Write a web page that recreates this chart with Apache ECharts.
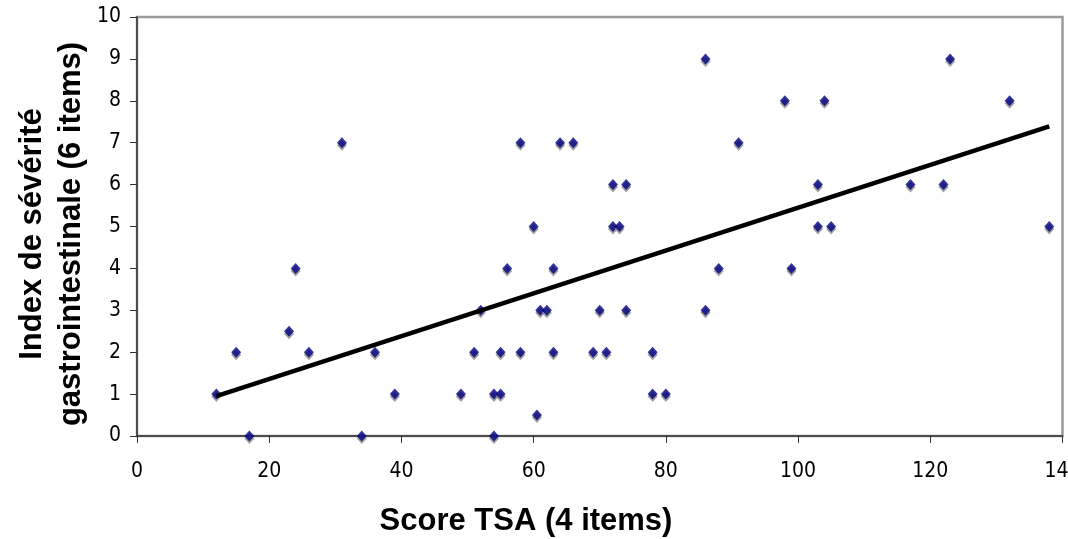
<!DOCTYPE html>
<html>
<head>
<meta charset="utf-8">
<script src="https://cdn.jsdelivr.net/npm/echarts@6/dist/echarts.min.js"></script>
<style>
html,body{margin:0;padding:0;background:#fff;}
#chart{width:1068px;height:539px;}
</style>
</head>
<body>
<div id="chart"></div>
<script>
// Data
const scoreTSA = [12,15,17,23,24,26,31,34,36,39,49,51,52,54,54,55,55,56,58,58,60,60.5,61,62,63,63,64,66,69,70,71,72,72,73,74,74,78,78,80,86,86,88,91,98,99,103,103,104,105,117,122,123,132,138];
const indexGI  = [1,2,0,2.5,4,2,7,0,2,1,1,2,3,1,0,1,2,4,7,2,5,0.5,3,3,4,2,7,7,2,3,2,6,5,5,6,3,2,1,1,9,3,4,7,8,4,6,5,8,5,6,6,9,8,5];
const trendX = [12, 138];
const trendY = [0.95, 7.39];
const xTicks = [0,20,40,60,80,100,120,140];
const yTicks = [0,1,2,3,4,5,6,7,8,9,10];
const xTitle = 'Score TSA (4 items)';
const yTitle = 'Index de sévérité\ngastrointestinale (6 items)';

const points = scoreTSA.map((x, i) => [x, indexGI[i]]);
const trend = trendX.map((x, i) => [x, trendY[i]]);

const chart = echarts.init(document.getElementById('chart'), null, {renderer: 'canvas'});
const tickFont = "'DejaVu Sans Condensed', 'DejaVu Sans', sans-serif";
chart.setOption({
  animation: false,
  backgroundColor: '#fff',
  grid: {
    left: 137, right: 5.5, top: 17, bottom: 103,
    outerBoundsMode: 'none', containLabel: false,
    show: true, borderColor: '#9a9a9a', borderWidth: 2.5, backgroundColor: 'transparent'
  },
  xAxis: {
    type: 'value', min: xTicks[0], max: xTicks[xTicks.length - 1], interval: 20,
    axisLine: {show: true, lineStyle: {color: '#333', width: 1.5}},
    axisTick: {show: true, inside: false, length: 7, lineStyle: {color: '#333', width: 1}},
    axisLabel: {color: '#000', fontSize: 21, fontFamily: tickFont, margin: 25, showMaxLabel: true, showMinLabel: true},
    splitLine: {show: false}
  },
  yAxis: {
    type: 'value', min: yTicks[0], max: yTicks[yTicks.length - 1], interval: 1,
    axisLine: {show: true, lineStyle: {color: '#333', width: 1.5}},
    axisTick: {show: true, inside: false, length: 7, lineStyle: {color: '#333', width: 1}},
    axisLabel: {color: '#000', fontSize: 21, fontFamily: tickFont, margin: 16},
    splitLine: {show: false}
  },
  graphic: [
    {
      type: 'text', x: 526, y: 521,
      style: {text: xTitle, fill: '#000', font: "bold 31px 'Liberation Sans', Arial, sans-serif", align: 'center', verticalAlign: 'middle'}
    },
    {
      type: 'text', x: 52, y: 234, rotation: Math.PI / 2,
      style: {text: yTitle, fill: '#000', font: "bold 31px 'Liberation Sans', Arial, sans-serif", align: 'center', verticalAlign: 'middle', lineHeight: 39}
    }
  ],
  series: [
    {
      type: 'scatter', data: points, symbol: 'diamond', symbolSize: [10, 11],
      itemStyle: {color: '#000080', shadowColor: '#8a8a8a', shadowOffsetX: 0, shadowOffsetY: 2.5, shadowBlur: 0},
      z: 3
    },
    {
      type: 'line', data: trend, showSymbol: false, symbol: 'none',
      lineStyle: {color: '#000', width: 4.5}, z: 4
    }
  ]
});
</script>
</body>
</html>
